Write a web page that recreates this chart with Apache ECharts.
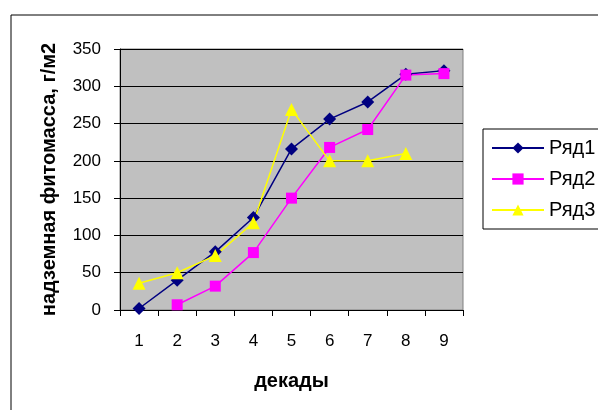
<!DOCTYPE html>
<html><head><meta charset="utf-8">
<script src="https://cdn.jsdelivr.net/npm/echarts@6/dist/echarts.min.js"></script>
<style>html,body{margin:0;padding:0;background:#fff}#c{width:598px;height:410px}</style>
</head><body><div id="c"></div>
<script>
const categories = ['1','2','3','4','5','6','7','8','9'];
const row1 = [2, 40, 78, 124, 216, 256, 279, 316, 321];
const row2 = [null, 7, 32, 77, 150, 218, 242, 315, 317];
const row3 = [36, 50, 73, 117, 269, 200, 200, 210, null];
const seriesNames = ['Ряд1','Ряд2','Ряд3'];
const yTitle = 'надземная фитомасса, г/м2';
const xTitle = 'декады';

const FONT = 'Arial, "Liberation Sans", sans-serif';
const chart = echarts.init(document.getElementById('c'), null, {renderer:'canvas'});
chart.setOption({
  animation:false,
  backgroundColor:'#fff',
  graphic:[{type:'rect', shape:{x:11,y:15,width:620,height:420}, style:{fill:'none', stroke:'#000', lineWidth:1}, z:-1}],
  grid:{left:120, top:49, right:135, bottom:100, show:true, backgroundColor:'#C0C0C0', borderColor:'#808080', borderWidth:1},
  legend:{
    left:483, top:129, orient:'vertical',
    borderColor:'#000', borderWidth:1, padding:[9,40,9,8],
    itemWidth:52, itemHeight:14, itemGap:11,
    textStyle:{fontFamily:FONT, fontSize:20, color:'#000'},
    data:seriesNames
  },
  xAxis:{
    type:'category', data:categories, boundaryGap:true,
    axisLine:{lineStyle:{color:'#000', width:1}},
    axisTick:{show:true, length:6, inside:false, lineStyle:{color:'#000'}},
    axisLabel:{color:'#000', fontFamily:FONT, fontSize:17, margin:23},
    name:xTitle, nameLocation:'middle', nameGap:61,
    nameTextStyle:{color:'#000', fontFamily:FONT, fontSize:20, fontWeight:'bold'}
  },
  yAxis:{
    type:'value', min:0, max:350, interval:50,
    axisLine:{show:true, lineStyle:{color:'#000', width:1}},
    axisTick:{show:true, length:6, lineStyle:{color:'#000'}},
    axisLabel:{color:'#000', fontFamily:FONT, fontSize:17, margin:19},
    splitLine:{show:true, lineStyle:{color:'#000', width:1}},
    name:yTitle, nameLocation:'middle', nameGap:61, nameRotate:90,
    nameTextStyle:{color:'#000', fontFamily:FONT, fontSize:20, fontWeight:'bold'}
  },
  series:[
    {name:seriesNames[0], type:'line', data:row1, symbol:'diamond', symbolSize:13, color:'#000080',
     lineStyle:{width:1.5, color:'#000080'}, itemStyle:{color:'#000080'}},
    {name:seriesNames[1], type:'line', data:row2, symbol:'rect', symbolSize:11, color:'#FF00FF',
     lineStyle:{width:1.5, color:'#FF00FF'}, itemStyle:{color:'#FF00FF'}},
    {name:seriesNames[2], type:'line', data:row3, symbol:'triangle', symbolSize:13, color:'#FFFF00',
     lineStyle:{width:1.5, color:'#FFFF00'}, itemStyle:{color:'#FFFF00'}}
  ]
});
</script></body></html>
